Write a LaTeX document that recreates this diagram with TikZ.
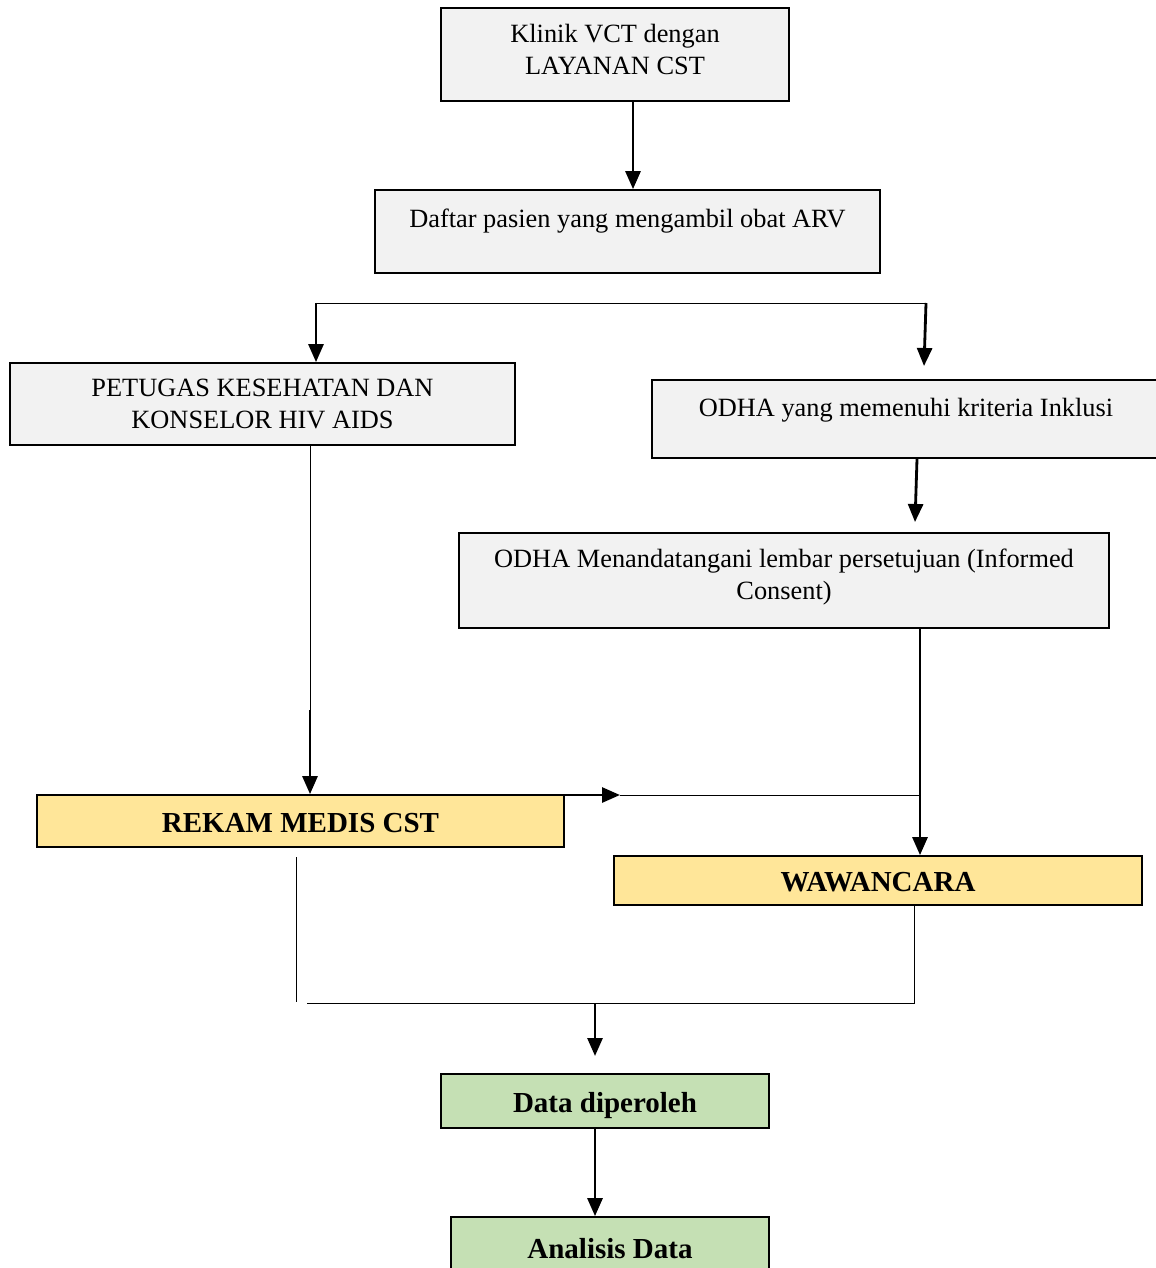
\documentclass[tikz,border=0pt]{standalone}
\usepackage{fontspec}
\setmainfont{Liberation Serif}
\usetikzlibrary{arrows.meta}
\usetikzlibrary{positioning}
\definecolor{boxgray}{HTML}{F2F2F2}
\definecolor{boxyellow}{HTML}{FFE699}
\definecolor{boxgreen}{HTML}{C5E0B4}

\begin{document}
\begin{tikzpicture}[x=0.2mm, y=-0.2mm]
\tikzset{BoxStyle/.style = {shape=rectangle, draw, line width=1pt, align=center, font=\fontsize{15}{17.8}\selectfont}}
\tikzset{GrayBox/.style = {BoxStyle, fill=boxgray}}
\tikzset{YellowBox/.style = {BoxStyle, fill=boxyellow, font=\fontsize{16.5}{19}\selectfont\bfseries, text height=14pt, text depth=1pt}}
\tikzset{GreenBox/.style = {BoxStyle, fill=boxgreen, font=\fontsize{16.5}{19}\selectfont\bfseries, text height=14pt, text depth=1pt}}
\tikzset{EdgeStyle/.style = {-{Triangle[length=3.6mm, width=3mm]}, line width=1.6pt}}
\tikzset{LineStyle/.style = {line width=0.55pt}}
  \useasboundingbox (0,0) rectangle (1155,1268);
  % boxes
  \node[GrayBox, minimum width=69.6mm, minimum height=18.6mm, text depth=6pt] (klinik) at (615,54.5) {Klinik VCT dengan\\LAYANAN CST};
  \node[GrayBox, minimum width=101mm, minimum height=16.6mm, text depth=15pt] (daftar) at (627.5,231.5) {Daftar pasien yang mengambil obat ARV};
  \node[GrayBox, minimum width=101mm, minimum height=16.4mm] (petugas) at (262.5,404) {PETUGAS KESEHATAN DAN\\KONSELOR HIV AIDS};
  \node[GrayBox, minimum width=101.6mm, minimum height=15.6mm, text depth=13pt] (kriteria) at (906,419) {ODHA yang memenuhi kriteria Inklusi};
  \node[GrayBox, minimum width=130mm, minimum height=19mm, text depth=7pt] (consent) at (784,580.5) {ODHA Menandatangani lembar persetujuan (Informed\\Consent)};
  \node[YellowBox, minimum width=105.4mm, minimum height=10.4mm] (rekam) at (300.5,821) {REKAM MEDIS CST};
  \node[YellowBox, minimum width=105.6mm, minimum height=9.8mm] (wawancara) at (878,880.5) {WAWANCARA};
  \node[GreenBox, minimum width=65.6mm, minimum height=10.8mm] (data) at (605,1101) {Data diperoleh};
  \node[GreenBox, minimum width=63.6mm, minimum height=12mm] (analisis) at (610,1247) {Analisis Data};

  % junctions
  \coordinate (kd) at (633,0);
  \coordinate (brL) at (316,303);
  \coordinate (brR) at (926,303);
  \coordinate (krTip) at (924,366);
  \coordinate (pj) at (310,710);
  \coordinate (kA) at (917,0);
  \coordinate (kB) at (915,522);
  \coordinate (cw) at (920,0);
  \coordinate (rA) at (388,795);
  \coordinate (rB) at (620,795);
  \coordinate (lA) at (296,857);
  \coordinate (lB) at (296,1002);
  \coordinate (wj) at (914,1003);
  \coordinate (mj) at (307,1003);
  \coordinate (dj) at (595,1003);
  \coordinate (dt) at (595,1056);

  % connectors
  \draw[EdgeStyle] (klinik.south -| kd) -- (daftar.north -| kd);
  \draw[LineStyle] (brL) -- (brR);
  \draw[EdgeStyle] (brL) -- (brL |- petugas.north);
  \draw[EdgeStyle] (brR) -- (krTip);
  \draw[LineStyle] (petugas.south -| pj) -- (pj);
  \draw[EdgeStyle] (pj) -- (pj |- rekam.north);
  \draw[EdgeStyle] (kriteria.south -| kA) -- (kB);
  \draw[EdgeStyle] (consent.south -| cw) -- (wawancara.north -| cw);
  \draw[EdgeStyle] (rA) -- (rB);
  \draw[LineStyle] (rB) -- (rB -| cw);
  \draw[LineStyle] (lA) -- (lB);
  \draw[LineStyle] (wawancara.south -| wj) -- (wj) -- (mj);
  \draw[EdgeStyle] (dj) -- (dt);
  \draw[EdgeStyle] (data.south -| dj) -- (analisis.north -| dj);
\end{tikzpicture}
\end{document}
